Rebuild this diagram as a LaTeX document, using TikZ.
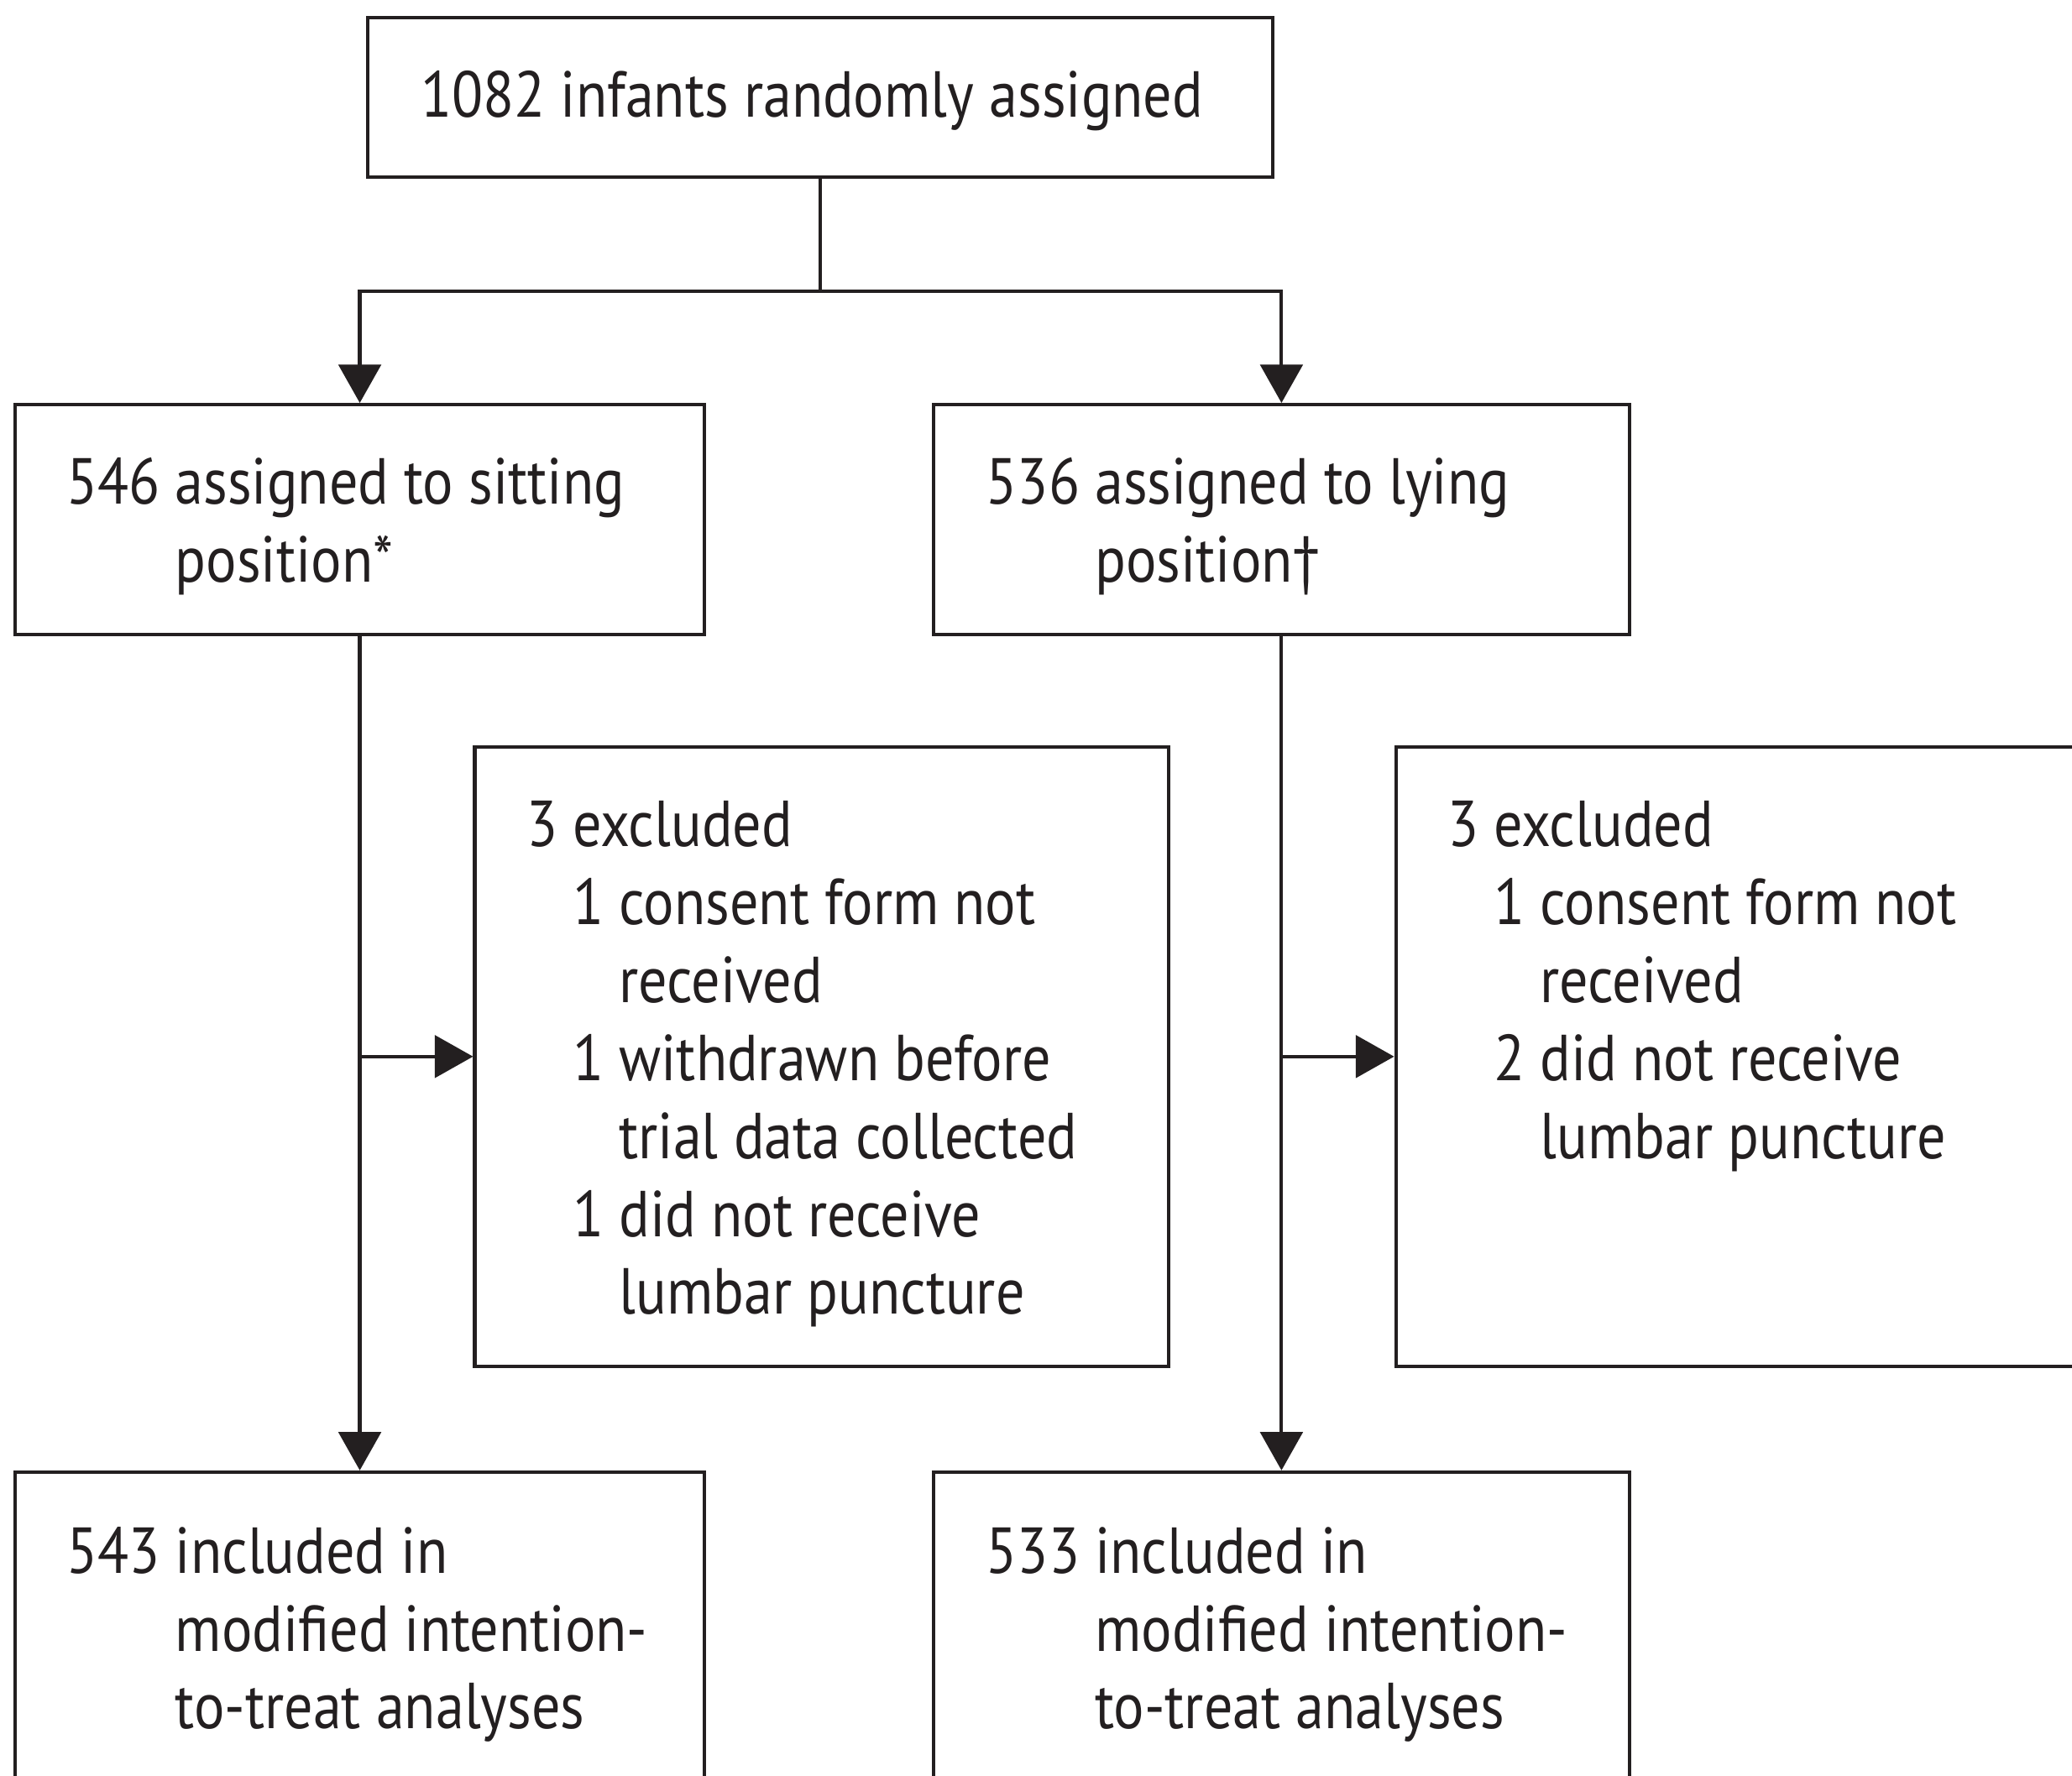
\documentclass[tikz,border=0pt]{standalone}
\usepackage{fontspec}
\setmainfont{PT Sans}[FakeStretch=0.88]
\usetikzlibrary{arrows.meta}
\definecolor{ink}{HTML}{231F20}
\newcommand{\boxfont}{\fontsize{28}{33.6}\selectfont}

\begin{document}
\begin{tikzpicture}[x=0.02cm,y=-0.02cm,color=ink]
    \tikzstyle{stage}=[draw=ink, line width=1.5pt, inner sep=0pt, anchor=north west]
    \tikzstyle{boxtext}=[inner sep=0pt, anchor=north west, font=\boxfont, text=ink]
    \tikzstyle{link}=[draw=ink, line width=1.5pt]
    \tikzstyle{flow}=[link, -{Triangle[length=0.58cm,width=0.64cm]}]
    \clip (0,0) rectangle (1568,1344);
    % boxes
    \node[stage, minimum width=13.70cm, minimum height=2.42cm] (rand) at (277,12) {};
    \node[stage, minimum width=10.44cm, minimum height=3.48cm] (sit) at (10,305) {};
    \node[stage, minimum width=10.54cm, minimum height=3.48cm] (lie) at (705,305) {};
    \node[stage, minimum width=10.50cm, minimum height=9.38cm] (exsit) at (358,564) {};
    \node[stage, minimum width=12.00cm, minimum height=9.38cm] (exlie) at (1055,564) {};
    \node[stage, minimum width=10.44cm, minimum height=6.00cm] (insit) at (10,1113) {};
    \node[stage, minimum width=10.54cm, minimum height=6.00cm] (inlie) at (705,1113) {};
    % texts
    \node[boxtext] (randtxt) at ([shift={(41,35)}]rand.north west) {\strut 1082 infants randomly assigned};
    \node[boxtext] (sittxt) at ([shift={(40,35)}]sit.north west) {\begin{tabular}{@{}l@{ }l@{}}
        546 & assigned to sitting\\
            & position*
    \end{tabular}};
    \node[boxtext] (lietxt) at ([shift={(41,35)}]lie.north west) {\begin{tabular}{@{}l@{ }l@{}}
        536 & assigned to lying\\
            & position†
    \end{tabular}};
    \node[boxtext] (exsittxt) at ([shift={(40,35)}]exsit.north west) {\begin{tabular}{@{}l@{ }l@{ }l@{}}
        3 & \multicolumn{2}{@{}l@{}}{excluded}\\
          & 1 & consent form not\\
          &   & received\\
          & 1 & withdrawn before\\
          &   & trial data collected\\
          & 1 & did not receive\\
          &   & lumbar puncture
    \end{tabular}};
    \node[boxtext] (exlietxt) at ([shift={(40,35)}]exlie.north west) {\begin{tabular}{@{}l@{ }l@{ }l@{}}
        3 & \multicolumn{2}{@{}l@{}}{excluded}\\
          & 1 & consent form not\\
          &   & received\\
          & 2 & did not receive\\
          &   & lumbar puncture
    \end{tabular}};
    \node[boxtext] (insittxt) at ([shift={(40,36)}]insit.north west) {\begin{tabular}{@{}l@{ }l@{}}
        543 & included in\\
            & modified intention-\\
            & to-treat analyses
    \end{tabular}};
    \node[boxtext] (inlietxt) at ([shift={(41,36)}]inlie.north west) {\begin{tabular}{@{}l@{ }l@{}}
        533 & included in\\
            & modified intention-\\
            & to-treat analyses
    \end{tabular}};
    % connectors
    \draw[link] (rand.south) -- ++(0,85) coordinate (split);
    \draw[flow] (split) -| (sit.north);
    \draw[flow] (split) -| (lie.north);
    \draw[flow] (sit.south) -- (insit.north);
    \draw[flow] (lie.south) -- (inlie.north);
    \draw[flow] (sit.south |- exsit.west) -- (exsit.west);
    \draw[flow] (lie.south |- exlie.west) -- (exlie.west);
\end{tikzpicture}
\end{document}
